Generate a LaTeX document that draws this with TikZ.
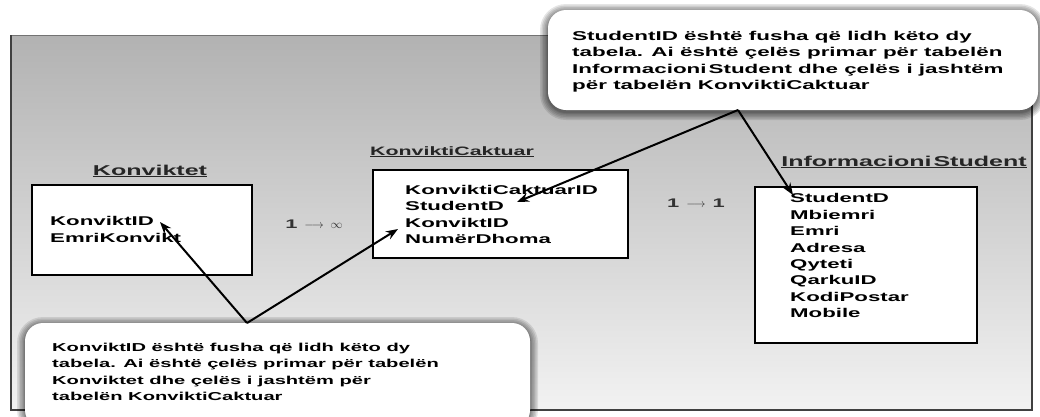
\documentclass[tikz,border=0pt]{standalone}
\usepackage{fontspec}
\newfontfamily\widefont{Liberation Sans}[FakeStretch=1.75]
\usetikzlibrary{arrows.meta}

\begin{document}
\begin{tikzpicture}[x=1pt,y=-1pt,
  tbox/.style={draw=black, line width=2.8pt, fill=white, inner sep=0},
  tabtitle/.style={anchor=base, inner sep=0, text=black!85,
    font=\widefont\bfseries\fontsize{14.3}{16}\selectfont},
  field/.style={anchor=base west, inner sep=0,
    font=\widefont\bfseries\fontsize{12.7}{15}\selectfont},
  note/.style={anchor=base west, inner sep=0,
    font=\widefont\bfseries\fontsize{12.8}{15}\selectfont},
  smallnote/.style={note, font=\widefont\bfseries\fontsize{11.5}{14}\selectfont},
  rel/.style={anchor=center, inner sep=0, text=black!80,
    font=\widefont\bfseries\fontsize{12.5}{14}\selectfont},
  card/.style={fill=white, rounded corners=18pt, inner sep=0},
  link/.style={line width=2pt, -{Stealth[length=12pt,width=9pt]}},
]
\useasboundingbox (0,0) rectangle (1040,416);
\clip (0,0) rectangle (1040,416);
\fill[white] (0,0) rectangle (1040,416);

% grey panel behind the tables
\shade[top color={rgb,255:red,178;green,178;blue,178},
       bottom color={rgb,255:red,242;green,242;blue,242}]
  (11,35) rectangle (1032,410);
\draw[black!55, line width=1pt] (11,35) rectangle (1032,410);
\draw[black!75, line width=1.6pt] (11,35) -- (11,410) -- (1032,410) -- (1032,35);

% tables
\node[tabtitle] (t1) at (150,175) {\underline{Konviktet}};
\node[tbox, minimum width=220pt, minimum height=90pt] (b1) at (142,230) {};
\node[field] (k1) at (50,225) {KonviktID};
\node[field] (k2) at (50,242) {EmriKonvikt};

\node[tabtitle, anchor=base west, font=\widefont\bfseries\fontsize{12.2}{14}\selectfont]
  (t2) at (370,155) {\underline{KonviktiCaktuar}};
\node[tbox, minimum width=255pt, minimum height=88pt] (b2) at (500.5,214) {};
\node[field] (c1) at (405,194) {KonviktiCaktuarID};
\node[field] (c2) at (405,210.5) {StudentD};
\node[field] (c3) at (405,227) {KonviktID};
\node[field] (c4) at (405,243.5) {NumërDhoma};

\node[tabtitle] (t3) at (904,166) {\underline{Informacioni\kern2pt Student}};
\node[tbox, minimum width=222pt, minimum height=156pt] (b3) at (866,265) {};
\foreach \txt [count=\i] in {StudentD,Mbiemri,Emri,Adresa,Qyteti,QarkuID,KodiPostar,Mobile}
  \node[field] (s\i) at (790,{186.5+16.4*\i}) {\txt};

% cardinalities
\node[rel] (r1) at (314,224) {1\;\;{\normalfont$\longrightarrow$}\;\;{\normalfont$\infty$}};
\node[rel] (r2) at (696,203) {1\;\;{\normalfont$\longrightarrow$}\;\;1};

% note cards with a soft shadow
\foreach \e in {8,6.5,5,3.5,2,1}{
  \fill[black, opacity=0.1, rounded corners={18pt+\e pt}]
    (548-\e,10-\e+2) rectangle (1038+\e,110+\e+2);
  \fill[black, opacity=0.1, rounded corners={18pt+\e pt}]
    (25-\e,323-\e+2) rectangle (530+\e,428+\e);
}
\node[card, minimum width=490pt, minimum height=100pt] (n1) at (793,60) {};
\node[card, minimum width=505pt, minimum height=105pt] (n2) at (277.5,375.5) {};

\node[note] (p1) at (572,40) {StudentID është fusha që lidh këto dy};
\node[note] (p2) at (572,56.5) {tabela. Ai është çelës primar për tabelën};
\node[note] (p3) at (572,73) {Informacioni\kern2pt Student dhe çelës i jashtëm};
\node[note] (p4) at (572,89.5) {për tabelën KonviktiCaktuar};

\node[smallnote] (q1) at (52,351) {KonviktID është fusha që lidh këto dy};
\node[smallnote] (q2) at (52,367.5) {tabela. Ai është çelës primar për tabelën};
\node[smallnote] (q3) at (52,384) {Konviktet dhe çelës i jashtëm për};
\node[smallnote] (q4) at (52,400.5) {tabelën KonviktiCaktuar};

% pointers from the notes to the key fields
\coordinate (fromK) at (247,323);
\coordinate (fromS) at (738,110);
\coordinate (toK1) at (160,222);
\coordinate (toK2) at (398,229);
\coordinate (toS1) at (517,202);
\coordinate (toS2) at (793,195);
\draw[link] (fromK) -- (toK1);
\draw[link] (fromK) -- (toK2);
\draw[link] (fromS) -- (toS1);
\draw[link] (fromS) -- (toS2);
\end{tikzpicture}
\end{document}
